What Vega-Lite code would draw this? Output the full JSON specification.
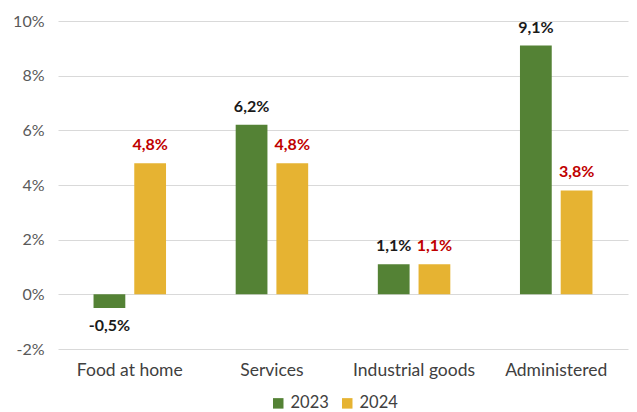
{
  "$schema": "https://vega.github.io/schema/vega-lite/v6.json",
  "width": 570,
  "height": 328,
  "autosize": "none",
  "padding": {"left": 58, "top": 21, "right": 9, "bottom": 63},
  "background": "white",
  "config": {
    "locale": {"number": {"decimal": ",", "thousands": ".", "grouping": [3], "currency": ["", "€"], "minus": "-"}},
    "font": "Lato",
    "view": {"stroke": null}
  },
  "data": {"values": [
    {"category": "Food at home", "year": "2023", "value": -0.005},
    {"category": "Food at home", "year": "2024", "value": 0.048},
    {"category": "Services", "year": "2023", "value": 0.062},
    {"category": "Services", "year": "2024", "value": 0.048},
    {"category": "Industrial goods", "year": "2023", "value": 0.011},
    {"category": "Industrial goods", "year": "2024", "value": 0.011},
    {"category": "Administered", "year": "2023", "value": 0.091},
    {"category": "Administered", "year": "2024", "value": 0.038}
  ]},
  "encoding": {
    "x": {"field": "category", "type": "nominal", "sort": null,
      "scale": {"paddingInner": 0.49, "paddingOuter": 0.25},
      "axis": {"title": null, "labelAngle": 0, "domain": false, "ticks": false, "labelFontSize": 17.5, "labelColor": "#404040", "labelPadding": 12}},
    "xOffset": {"field": "year", "type": "nominal", "scale": {"paddingInner": 0.22}},
    "y": {"field": "value", "type": "quantitative",
      "scale": {"domain": [-0.02, 0.1], "nice": false, "zero": false},
      "axis": {"title": null, "values": [-0.02, 0, 0.02, 0.04, 0.06, 0.08, 0.1], "format": ".0%", "domain": false, "ticks": false, "labelFontSize": 16, "labelColor": "#595959", "labelPadding": 14, "gridColor": "#d9d9d9", "gridWidth": 1.2}}
  },
  "layer": [
    {
      "mark": {"type": "bar"},
      "encoding": {
        "color": {"field": "year", "type": "nominal",
          "scale": {"domain": ["2023", "2024"], "range": ["#548235", "#E6B332"]},
          "legend": {"title": null, "orient": "none", "legendX": 212, "legendY": 374, "direction": "horizontal", "symbolType": "square", "symbolSize": 110, "labelFontSize": 16.5, "labelColor": "#404040", "columnPadding": 10, "symbolStrokeWidth": 0, "labelOffset": 4}}
      }
    },
    {
      "transform": [{"filter": "datum.value >= 0"}],
      "mark": {"type": "text", "baseline": "bottom", "dy": -10, "fontSize": 16, "fontWeight": "bold"},
      "encoding": {
        "text": {"field": "value", "type": "quantitative", "format": ".1%"},
        "color": {"condition": {"test": "datum.year === '2023'", "value": "#1a1a1a"}, "value": "#C00000"}
      }
    },
    {
      "transform": [{"filter": "datum.value < 0"}],
      "mark": {"type": "text", "baseline": "top", "dy": 10, "fontSize": 16, "fontWeight": "bold", "color": "#1a1a1a"},
      "encoding": {
        "text": {"field": "value", "type": "quantitative", "format": ".1%"}
      }
    }
  ]
}
